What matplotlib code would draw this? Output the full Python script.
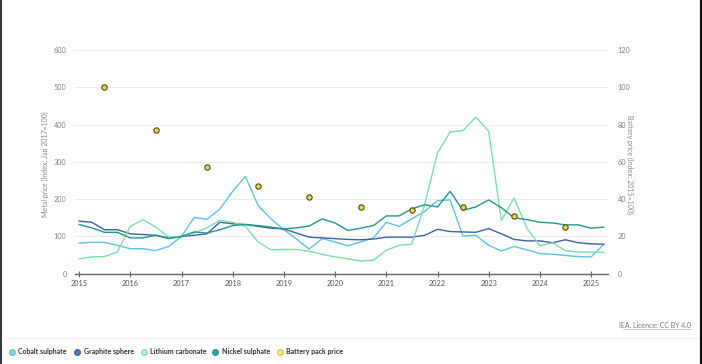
import numpy as np
import pandas as pd
import matplotlib
matplotlib.use("Agg")
import matplotlib.pyplot as plt
import matplotlib.dates as mdates
from matplotlib.lines import Line2D

plt.rcParams['font.family'] = ['Lato', 'DejaVu Sans']

# ---------------- data ----------------
quarters = pd.date_range('2015-01-01', periods=42, freq='QS')

cobalt = [82, 84, 84, 76, 67, 67, 62, 73, 100, 151, 146, 173, 221, 261, 183, 147,
          118, 93, 66, 94, 85, 75, 85, 96, 138, 127, 147, 167, 196, 198, 101, 103,
          76, 61, 73, 64, 54, 52, 49, 46, 45, 79]
graphite = [141, 138, 118, 118, 107, 105, 103, 96, 100, 103, 107, 138, 134, 132, 127, 122,
            120, 109, 98, 96, 94, 92, 91, 93, 98, 98, 98, 103, 119, 113, 112, 111,
            121, 107, 92, 88, 88, 83, 91, 83, 80, 79]
lithium = [40, 45, 46, 58, 127, 145, 125, 98, 100, 109, 123, 143, 138, 127, 85, 64,
           65, 65, 60, 52, 45, 40, 34, 36, 63, 76, 79, 185, 324, 380, 384, 420,
           382, 143, 203, 122, 75, 83, 62, 58, 58, 57]
nickel = [132, 123, 111, 111, 96, 96, 103, 94, 100, 112, 109, 118, 129, 132, 129, 125,
          120, 123, 128, 147, 136, 116, 122, 129, 155, 155, 174, 185, 179, 221, 170, 179,
          198, 177, 150, 145, 138, 136, 131, 131, 122, 125]

battery_dates = pd.to_datetime(['2015-07-01', '2016-07-01', '2017-07-01', '2018-07-01',
                                '2019-07-01', '2020-07-01', '2021-07-01', '2022-07-01',
                                '2023-07-01', '2024-07-01'])
battery = [100, 77, 57, 47, 41, 36, 34, 36, 31, 25]

left_ticks = [0, 100, 200, 300, 400, 500, 600]
right_ticks = [0, 20, 40, 60, 80, 100, 120]
years = list(range(2015, 2026))

series_names = ['Cobalt sulphate', 'Graphite sphere', 'Lithium carbonate',
                'Nickel sulphate', 'Battery pack price']

# ---------------- styles ----------------
c_cobalt = '#5cc3e4'
c_graphite = '#3f61a6'
c_lithium = '#7be0a6'
c_nickel = '#1f9a89'
c_batt_face = '#e6e040'
c_batt_edge = '#5e5a1a'
tick_col = '#808080'

W, H = 702, 364
fig = plt.figure(figsize=(W / 100, H / 100), dpi=100)
fig.patch.set_facecolor('white')

ax_l, ax_r, ax_t, ax_b = 75, 608, 50, 273.7
ax = fig.add_axes([ax_l / W, 1 - ax_b / H, (ax_r - ax_l) / W, (ax_b - ax_t) / H])

lw = 1.0
ax.plot(quarters, cobalt, color=c_cobalt, lw=lw, zorder=3)
ax.plot(quarters, graphite, color=c_graphite, lw=lw, zorder=3)
ax.plot(quarters, lithium, color=c_lithium, lw=lw, zorder=3)
ax.plot(quarters, nickel, color=c_nickel, lw=lw, zorder=4)

ax.set_ylim(0, 600)
ax.set_xlim(pd.Timestamp('2014-12-03'), pd.Timestamp('2025-05-01'))
ax.set_yticks(left_ticks)
ax.grid(axis='y', color='#ebebeb', lw=0.7, zorder=0)
ax.set_axisbelow(True)
for s in ['left', 'right', 'top']:
    ax.spines[s].set_visible(False)
ax.spines['bottom'].set_color('#666666')
ax.spines['bottom'].set_linewidth(1.0)
ax.set_xticks([pd.Timestamp(f'{y}-01-01') for y in years])
ax.xaxis.set_major_formatter(mdates.DateFormatter('%Y'))
ax.tick_params(axis='x', direction='inout', length=5, width=0.8, color='#666666',
               labelsize=5.2, labelcolor='#555555', pad=2)
ax.tick_params(axis='y', length=0, labelsize=5.2, labelcolor=tick_col, pad=6)
ax.set_ylabel('Metal price (Index: Jan 2017=100)', fontsize=5, color='#888888')
ax.yaxis.set_label_coords((49 - ax_l) / (ax_r - ax_l), 0.49)

ax2 = ax.twinx()
ax2.plot(battery_dates, battery, linestyle='none', marker='o', markersize=3.8,
         markerfacecolor=c_batt_face, markeredgecolor=c_batt_edge, markeredgewidth=0.9,
         zorder=5)
ax2.set_ylim(0, 120)
ax2.set_yticks(right_ticks)
for s in ['left', 'right', 'top', 'bottom']:
    ax2.spines[s].set_visible(False)
ax2.tick_params(axis='y', length=0, labelsize=5.2, labelcolor=tick_col, pad=7)
ax2.set_ylabel('Battery price (Index: 2015=100)', fontsize=5, color='#888888',
               rotation=-90)
ax2.yaxis.set_label_coords((633 - ax_l) / (ax_r - ax_l), 0.49)
ax2.set_zorder(ax.get_zorder() + 1)
ax2.patch.set_visible(False)

# ---------------- legend (manual) ----------------
leg_y = 1 - 351.5 / H
marker_x = [11.7, 77, 143.5, 215, 279.5]
text_x = [18.5, 83.5, 150, 222, 286]
faces = ['#8fd3ea', '#5d79b5', '#c8f2d8', '#3aa597', '#f6efa8']
edges = [c_cobalt, c_graphite, c_lithium, c_nickel, '#d6ca3a']
for name, mx, tx, fc, ec in zip(series_names, marker_x, text_x, faces, edges):
    fig.add_artist(Line2D([mx / W], [leg_y], marker='o', markersize=4,
                          markerfacecolor=fc, markeredgecolor=ec,
                          markeredgewidth=1.0, linestyle='none',
                          transform=fig.transFigure))
    fig.text(tx / W, leg_y, name, fontsize=5, color='#333333', fontweight='bold',
             ha='left', va='center')

# separator and source
fig.add_artist(Line2D([8 / W, 700 / W], [1 - 338 / H] * 2, color='#efefef', lw=1.0,
                      transform=fig.transFigure))
fig.text(691 / W, 1 - 325.5 / H, 'IEA. Licence: CC BY 4.0', fontsize=5,
         color='#777777', ha='right', va='center')
fig.add_artist(Line2D([623 / W, 691 / W], [1 - 329 / H] * 2, color='#999999', lw=0.4,
                      transform=fig.transFigure))

# frame edges of the screenshot
fig.add_artist(Line2D([0.7 / W, 0.7 / W], [0, 1], color='#111111', lw=1.2,
                      transform=fig.transFigure))
fig.add_artist(Line2D([700.8 / W, 700.8 / W], [0, 1], color='#111111', lw=1.6,
                      transform=fig.transFigure))

fig.savefig('out.png', dpi=100, facecolor='white')
